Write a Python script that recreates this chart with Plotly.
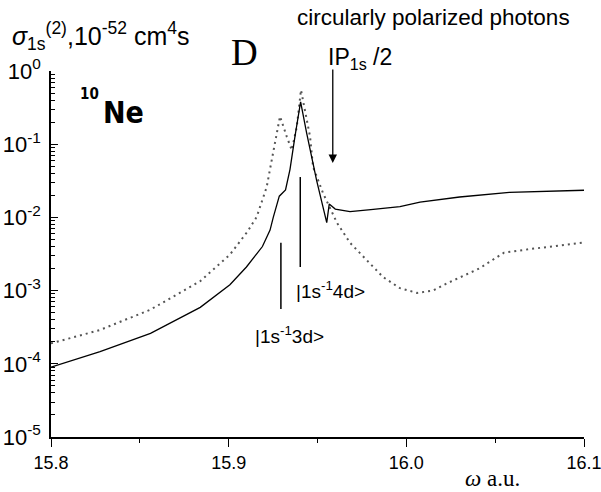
import plotly.graph_objects as go

# ---- data ----
omega_solid = [15.800, 15.8276, 15.856, 15.884, 15.9007, 15.910, 15.919, 15.9233,
               15.9251, 15.9285, 15.932, 15.9345, 15.9373, 15.9405, 15.9439, 15.9475,
               15.9495, 15.9552, 15.9566, 15.9600, 15.9683, 15.980, 15.9964, 16.0077,
               16.030, 16.058, 16.080, 16.100]
sigma_solid = [9.0e-5, 1.47e-4, 2.6e-4, 5.9e-4, 1.2e-3, 2.1e-3, 4.0e-3, 6.7e-3,
               1.0e-2, 1.95e-2, 2.37e-2, 4.5e-2, 0.127, 0.38, 0.142, 0.055,
               0.032, 8.5e-3, 1.52e-2, 1.3e-2, 1.2e-2, 1.28e-2, 1.4e-2, 1.62e-2,
               1.9e-2, 2.2e-2, 2.3e-2, 2.35e-2]

omega_dot = [15.800, 15.8276, 15.856, 15.884, 15.9007, 15.9106, 15.9158, 15.9214,
             15.925, 15.9289, 15.9327, 15.9355, 15.9383, 15.9407, 15.9458, 15.9475,
             15.9531, 15.961, 15.9683, 15.9779, 15.9869, 15.9964, 16.006, 16.015,
             16.023, 16.041, 16.055, 16.070, 16.085, 16.099]
sigma_dot = [1.9e-4, 2.9e-4, 5.5e-4, 1.35e-3, 3.1e-3, 6.4e-3, 1.02e-2, 2.6e-2,
             7.6e-2, 0.24, 0.127, 0.083, 0.17, 0.55, 0.127, 0.049,
             2.15e-2, 8.4e-3, 4.5e-3, 2.6e-3, 1.53e-3, 1.08e-3, 9.3e-4, 1.0e-3,
             1.26e-3, 2.0e-3, 3.3e-3, 3.7e-3, 4.1e-3, 4.5e-3]

x_ticks = [15.8, 15.9, 16.0, 16.1]
x_ticktext = ["15.8", "15.9", "16.0", "16.1"]
x_minor = [15.85, 15.95, 16.05]
y_ticks = [1e-5, 1e-4, 1e-3, 1e-2, 1e-1, 1e0]
y_ticktext = ["10<sup>-5</sup>", "10<sup>-4</sup>", "10<sup>-3</sup>",
              "10<sup>-2</sup>", "10<sup>-1</sup>", "10<sup>0</sup>"]
y_minor = [m * 10.0 ** e for e in range(-5, 0) for m in range(2, 10)]

# resonance marker lines (omega, y-bottom, y-top)
ket3d_x = [15.9294, 15.9294]
ket3d_y = [5.6e-4, 4.5e-3]
ket4d_x = [15.9403, 15.9403]
ket4d_y = [2.1e-3, 3.56e-2]
ip_half = 15.9586

SANS = "Liberation Sans, Arial, sans-serif"
SERIF = "Liberation Serif, Times New Roman, serif"
NARROW = "Liberation Sans Narrow, DejaVu Sans Condensed, Roboto, sans-serif"

fig = go.Figure()
fig.add_trace(go.Scatter(x=omega_dot, y=sigma_dot, mode="lines",
                         line=dict(color="#555555", width=2, dash="2px,4px"),
                         showlegend=False, hoverinfo="skip"))
fig.add_trace(go.Scatter(x=omega_solid, y=sigma_solid, mode="lines",
                         line=dict(color="black", width=1.3),
                         showlegend=False, hoverinfo="skip"))
for xs, ys in [(ket3d_x, ket3d_y), (ket4d_x, ket4d_y)]:
    fig.add_trace(go.Scatter(x=xs, y=ys, mode="lines",
                             line=dict(color="black", width=1.5),
                             showlegend=False, hoverinfo="skip"))

def px2paper(px, py):
    return (px - 51) / 533.0, (437 - py) / 366.0

ann = []
def add_text(text, px, py, size, family=SANS, xanchor="center", yanchor="middle",
             color="black", weight="normal"):
    x, y = px2paper(px, py)
    ann.append(dict(text=text, x=x, y=y, xref="paper", yref="paper", showarrow=False,
                    xanchor=xanchor, yanchor=yanchor,
                    font=dict(size=size, family=family, color=color, weight=weight)))

add_text("<i>σ</i><sub>1s</sub><sup>(2)</sup>,10<sup>-52</sup> cm<sup>4</sup>s", 10, 36, 25,
         xanchor="left")
add_text("circularly polarized photons", 434, 18, 22.5)
add_text("IP<sub>1s</sub> /2", 326, 58, 23, xanchor="left")
add_text("D", 244, 53, 37, family=SERIF)
add_text("10", 78, 94, 15, family=NARROW, xanchor="left", weight=900)
add_text("Ne", 101, 112, 30, family=NARROW, xanchor="left", weight=900)
add_text("|1s<sup>-1</sup>4d&gt;", 294, 290, 19, xanchor="left")
add_text("|1s<sup>-1</sup>3d&gt;", 253, 335, 19, xanchor="left")
add_text("<i>ω</i> a.u.", 492, 478, 23, family=SERIF)

# arrow IP/2
ann.append(dict(x=ip_half, y=px2paper(0, 163)[1], xref="x", yref="paper",
                ax=0, ay=-95, axref="pixel", ayref="pixel",
                text="", showarrow=True, arrowhead=2, arrowsize=1.3, arrowwidth=1.3,
                arrowcolor="black"))

fig.update_layout(
    width=601, height=492, autosize=False,
    margin=dict(l=51, r=17, t=71, b=55),
    paper_bgcolor="white", plot_bgcolor="white",
    annotations=ann,
    xaxis=dict(range=[15.8, 16.1], showgrid=False, zeroline=False, automargin=False,
               showline=True, linecolor="black", linewidth=1.5,
               tickmode="array", tickvals=x_ticks, ticktext=x_ticktext,
               ticks="outside", ticklen=8, tickwidth=1.3, tickcolor="black",
               ticklabelstandoff=1, ticklabeloverflow="allow",
               tickfont=dict(size=18, family=SANS, color="black"),
               minor=dict(tickmode="array", tickvals=x_minor, ticks="outside",
                          ticklen=4, tickwidth=1.3, tickcolor="black", showgrid=False)),
    yaxis=dict(type="log", range=[-5, 0], showgrid=False, zeroline=False, automargin=False,
               showline=True, linecolor="black", linewidth=1.5,
               tickmode="array", tickvals=y_ticks, ticktext=y_ticktext,
               ticks="inside", ticklen=7, tickwidth=1.2, tickcolor="black",
               ticklabelstandoff=4, ticklabeloverflow="allow",
               tickfont=dict(size=22, family=SANS, color="black"),
               minor=dict(tickmode="array", tickvals=y_minor, ticks="inside",
                          ticklen=4, tickwidth=1, tickcolor="black", showgrid=False)),
)

fig.write_html("out.html", config={"displayModeBar": False},
               post_script="document.body.style.margin='0px';")
